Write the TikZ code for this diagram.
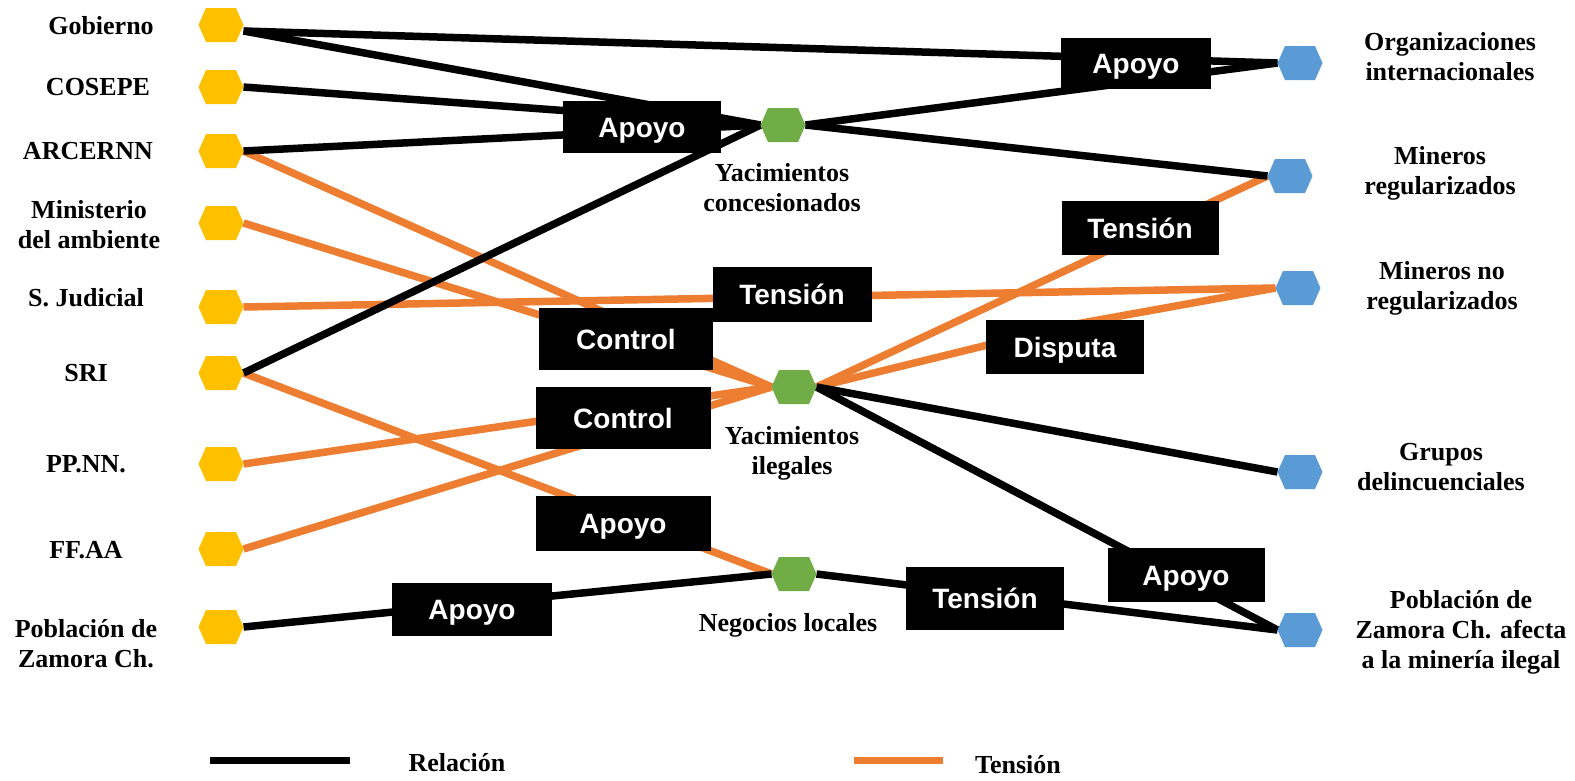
\documentclass[tikz,border=0pt]{standalone}
\usepackage{fontspec}
\setmainfont{Liberation Serif}
\setsansfont{Liberation Sans}
\pgfdeclarelayer{bg}
\pgfsetlayers{bg,main}
\definecolor{cyel}{HTML}{FFC000}
\definecolor{cgrn}{HTML}{70AD47}
\definecolor{cblu}{HTML}{5B9BD5}
\definecolor{cora}{HTML}{ED7D31}
\begin{document}
\begin{tikzpicture}[x=1pt,y=-1pt,
  hexa/.style={rectangle, minimum width=45pt, minimum height=34pt, inner sep=0pt, outer sep=0pt,
    path picture={\fill[#1] (path picture bounding box.west)
      -- ([xshift=-15pt]path picture bounding box.north)
      -- ([xshift=15pt]path picture bounding box.north)
      -- (path picture bounding box.east)
      -- ([xshift=15pt]path picture bounding box.south)
      -- ([xshift=-15pt]path picture bounding box.south) -- cycle;}},
  lab/.style={font=\bfseries\fontsize{26}{30}\selectfont, align=center, inner sep=0pt},
  box/.style={fill=black, text=white, font=\sffamily\bfseries\fontsize{28}{32}\selectfont,
    minimum width=158pt, minimum height=54pt, inner sep=0pt, text height=20pt, text depth=0pt},
  rel/.style={line width=7.5pt, black},
  ten/.style={line width=7.5pt, cora}]
\useasboundingbox (0,0) rectangle (1575,780);

% left actors
\node[hexa=cyel] (gob) at (221,25) {};
\node[hexa=cyel] (cos) at (221,87) {};
\node[hexa=cyel] (arc) at (221,151) {};
\node[hexa=cyel] (min) at (221,223) {};
\node[hexa=cyel] (sju) at (221,307) {};
\node[hexa=cyel] (sri) at (221,373) {};
\node[hexa=cyel] (ppn) at (221,464) {};
\node[hexa=cyel] (ffa) at (221,549) {};
\node[hexa=cyel] (pob) at (221,627) {};

\node[lab] (tgob) at (101,26) {Gobierno};
\node[lab] (tcos) at (98,87) {COSEPE};
\node[lab] (tarc) at (88,151) {ARCERNN};
\node[lab] (tmin) at (89,225) {Ministerio\\del ambiente};
\node[lab] (tsju) at (86,298) {S. Judicial};
\node[lab] (tsri) at (86,373) {SRI};
\node[lab] (tppn) at (86,464) {PP.NN.};
\node[lab] (tffa) at (86,550) {FF.AA};
\node[lab] (tpob) at (86,644) {Población de\\Zamora Ch.};

% middle
\node[hexa=cgrn] (ycon) at (783,125) {};
\node[hexa=cgrn] (yile) at (794,387) {};
\node[hexa=cgrn] (neg) at (794,574) {};
\node[lab] (tycon) at (782,188) {Yacimientos\\concesionados};
\node[lab] (tyile) at (792,453) {Yacimientos\\ilegales};
\node[lab] (tneg) at (788,625) {Negocios locales};

% right actors
\node[hexa=cblu] (org) at (1300,63) {};
\node[hexa=cblu] (mre) at (1290,176) {};
\node[hexa=cblu] (mnr) at (1298,288) {};
\node[hexa=cblu] (gru) at (1300,472) {};
\node[hexa=cblu] (paf) at (1300,630) {};
\node[lab] (torg) at (1450,57) {Organizaciones\\internacionales};
\node[lab] (tmre) at (1440,173) {Mineros\\regularizados};
\node[lab] (tmnr) at (1442,288) {Mineros no\\regularizados};
\node[lab] (tgru) at (1441,467) {Grupos\\delincuenciales};
\node[lab] (tpaf) at (1461,632) {Población de\\Zamora Ch. afecta\\a la minería ilegal};

% relation labels
\node[box, minimum width=150pt, minimum height=51pt] (bA1) at (1136,63) {Apoyo};
\node[box, minimum height=52pt] (bA2) at (642,127) {Apoyo};
\node[box, minimum width=157pt] (bT1) at (1140,228) {Tensión};
\node[box, minimum width=159pt, minimum height=55pt] (bT2) at (792,294) {Tensión};
\node[box, minimum width=174pt, minimum height=62pt] (bC1) at (626,339) {Control};
\node[box] (bD) at (1065,347) {Disputa};
\node[box, minimum width=175pt, minimum height=62pt] (bC2) at (623,418) {Control};
\node[box, minimum width=175pt, minimum height=55pt] (bA3) at (623,523) {Apoyo};
\node[box, minimum width=157pt] (bA4) at (1186,575) {Apoyo};
\node[box, minimum width=160pt, minimum height=53pt] (bA5) at (472,609) {Apoyo};
\node[box, minimum height=63pt] (bT3) at (985,598) {Tensión};

% legend
\coordinate (l1a) at (210,760);
\coordinate (l1b) at (350,760);
\coordinate (l2a) at (854,760);
\coordinate (l2b) at (943,760);
\node[lab] (trel) at (457,763) {Relación};
\node[lab] (tten) at (1018,765) {Tensión};

\begin{pgfonlayer}{bg}
  % tension connectors
  \draw[ten] (arc.east) -- (yile.west);
  \draw[ten] (min.east) -- (yile.west);
  \draw[ten] (sju.east) -- (mnr.west);
  \draw[ten] (sri.east) -- (neg.west);
  \draw[ten] (ppn.east) -- (yile.west);
  \draw[ten] (ffa.east) -- (yile.west);
  \draw[ten] (yile.east) -- (mre.west);
  \draw[ten] (yile.east) -- ([yshift=21pt]bD.center) -- (mnr.west);
  % relation connectors
  \draw[rel] ([yshift=-6pt]gob.east) -- (org.west);
  \draw[rel] ([yshift=-6pt]gob.east) -- (ycon.west);
  \draw[rel] (cos.east) -- (ycon.west);
  \draw[rel] (arc.east) -- (ycon.west);
  \draw[rel] (sri.east) -- (ycon.west);
  \draw[rel] (ycon.east) -- (org.west);
  \draw[rel] (ycon.east) -- (mre.west);
  \draw[rel] (yile.east) -- (gru.west);
  \draw[rel] (yile.east) -- (paf.west);
  \draw[rel] (pob.east) -- (neg.west);
  \draw[rel] (neg.east) -- (paf.west);
  % legend lines
  \draw[line width=7pt, black] (l1a) -- (l1b);
  \draw[line width=7pt, cora] (l2a) -- (l2b);
\end{pgfonlayer}
\end{tikzpicture}
\end{document}
